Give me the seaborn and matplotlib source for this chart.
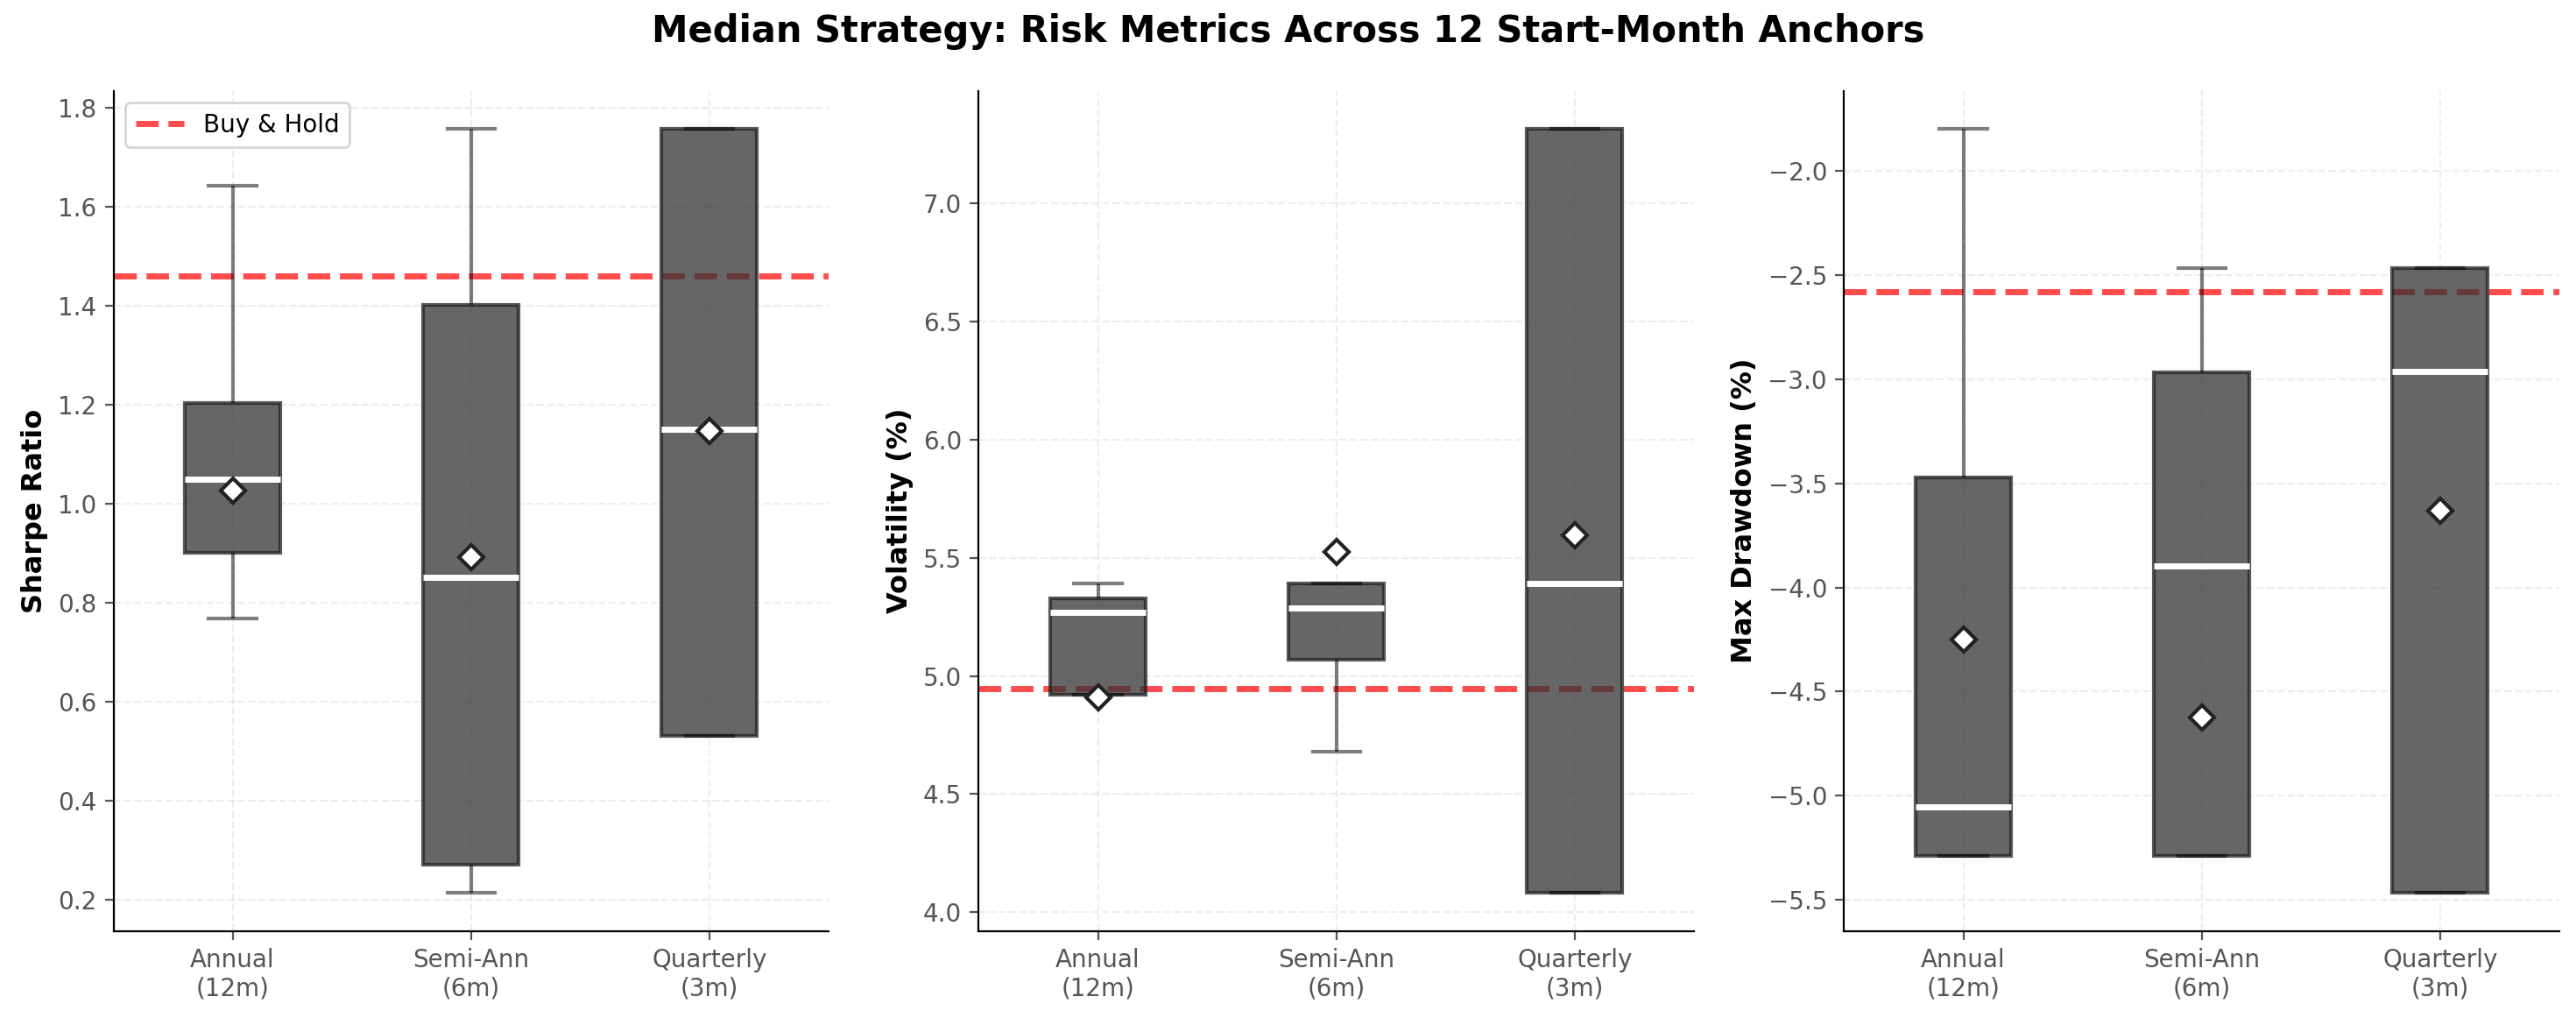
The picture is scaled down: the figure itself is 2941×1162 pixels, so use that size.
import numpy as np
import pandas as pd
import matplotlib
matplotlib.use("Agg")
import matplotlib.pyplot as plt
import seaborn as sns

# ---- data (12 start-month anchors per rebalancing frequency) ----
categories = ["Annual\n(12m)", "Semi-Ann\n(6m)", "Quarterly\n(3m)"]

sharpe_annual = [0.144, 0.768, 0.85, 0.919, 0.98, 1.03, 1.07, 1.15, 1.20, 1.22, 1.35, 1.643]
sharpe_semi = [0.215, 0.272, 0.80, 0.905, 1.402, 1.758, 0.215, 0.272, 0.80, 0.905, 1.402, 1.758]
sharpe_quarterly = [0.532, 1.151, 1.758, 0.532, 1.151, 1.758, 0.532, 1.151, 1.758, 0.532, 1.151, 1.758]

vol_annual = [3.2, 3.486, 4.92, 4.92, 5.10, 5.25, 5.286, 5.30, 5.32, 5.36, 5.375, 5.391]
vol_semi = [4.679, 5.070, 5.20, 5.374, 5.391, 7.43, 4.679, 5.070, 5.20, 5.374, 5.391, 7.43]
vol_quarterly = [4.083, 5.391, 7.315, 4.083, 5.391, 7.315, 4.083, 5.391, 7.315, 4.083, 5.391, 7.315]

dd_annual = [-5.288, -5.288, -5.288, -5.288, -5.20, -5.15, -4.958, -4.2, -3.60, -3.084, -1.881, -1.799]
dd_semi = [-9.239, -5.288, -4.0, -3.79, -2.966, -2.467, -9.239, -5.288, -4.0, -3.79, -2.966, -2.467]
dd_quarterly = [-5.465, -2.963, -2.467, -5.465, -2.963, -2.467, -5.465, -2.963, -2.467, -5.465, -2.963, -2.467]

buy_hold = [1.461, 4.947, -2.580]
ylabels = ["Sharpe Ratio", "Volatility (%)", "Max Drawdown (%)"]
title = "Median Strategy: Risk Metrics Across 12 Start-Month Anchors"

metric_series = [
    (sharpe_annual, sharpe_semi, sharpe_quarterly),
    (vol_annual, vol_semi, vol_quarterly),
    (dd_annual, dd_semi, dd_quarterly),
]

plt.rcParams["font.family"] = ["DejaVu Sans"]

W, H, DPI = 2941, 1162, 200
fig, axes = plt.subplots(1, 3, figsize=(W / DPI, H / DPI), dpi=DPI)
fig.subplots_adjust(left=129.5 / W, right=2922 / W, bottom=1 - 1062.5 / H,
                    top=1 - 103.6 / H, wspace=0.21)

for i, ax in enumerate(axes):
    groups = metric_series[i]
    df = pd.DataFrame({
        "freq": np.repeat(categories, [len(g) for g in groups]),
        "value": np.concatenate([np.asarray(g, float) for g in groups]),
    })
    sns.boxplot(
        data=df, x="freq", y="value", order=categories, ax=ax,
        width=0.4, showfliers=False, showmeans=True,
        color="#333333", linecolor="#333333", linewidth=1.5,
        boxprops=dict(facecolor="#333333", edgecolor="#222222", alpha=0.75, linewidth=1.5),
        whiskerprops=dict(color="black", alpha=0.5, linewidth=1.5),
        capprops=dict(color="black", alpha=0.5, linewidth=1.5),
        medianprops=dict(color="white", linewidth=2.5),
        meanprops=dict(marker="D", markerfacecolor="white", markeredgecolor="#222222",
                       markersize=7, markeredgewidth=1.5),
    )
    ax.axhline(buy_hold[i], color="red", linestyle="--", linewidth=2.5,
               alpha=0.7, zorder=1.5, label="Buy & Hold" if i == 0 else None)
    leg = ax.get_legend()
    if leg is not None:
        leg.remove()
    ax.set_xlabel("")
    ax.set_ylabel(ylabels[i], fontsize=11.5, fontweight="bold", color="black")
    ax.grid(True, linestyle="--", alpha=0.25, color="#bbbbbb")
    ax.set_axisbelow(True)
    ax.tick_params(colors="#555555", labelsize=10)
    for s in ["top", "right"]:
        ax.spines[s].set_visible(False)
    for s in ["left", "bottom"]:
        ax.spines[s].set_color("black")
    if i == 0:
        ax.legend(loc="upper left", fontsize=10)

fig.text(0.5, 1 - 48.3 / H, title, ha="center", va="baseline",
         fontsize=15, fontweight="bold")

fig.savefig("out.png", dpi=DPI)
